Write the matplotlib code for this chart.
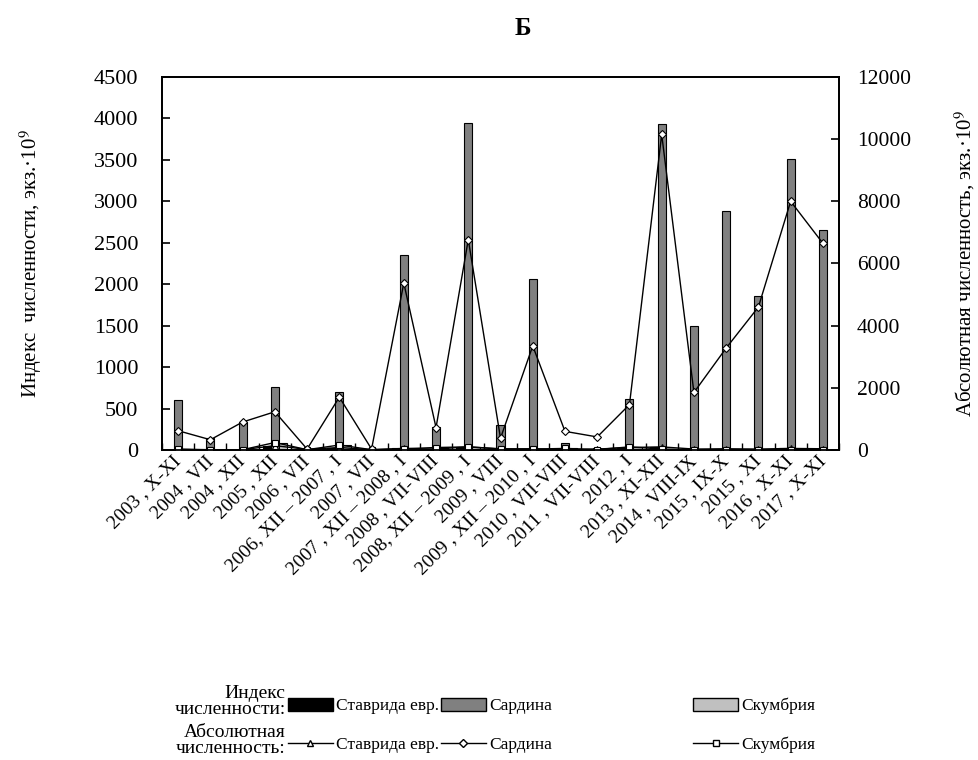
import numpy as np
import matplotlib
matplotlib.use("Agg")
import matplotlib.pyplot as plt
from matplotlib.patches import Patch
from matplotlib.lines import Line2D

plt.rcParams['font.family'] = ['Liberation Serif', 'DejaVu Serif']
plt.rcParams['mathtext.fontset'] = 'stix'


# DATA

periods = [
    "2003 , X-XI", "2004 , VII", "2004 , XII", "2005 , XII", "2006 , VII",
    "2006, XII \u2013 2007 , I", "2007 , VII", "2007 , XII \u2013 2008 , I",
    "2008 , VII-VIII", "2008, XII \u2013 2009 , I", "2009 , VIII",
    "2009 , XII \u2013 2010 , I", "2010 , VII-VIII", "2011 , VII-VIII",
    "2012 , I", "2013 , XI-XII", "2014 , VIII-IX", "2015 , IX-X",
    "2015 , XI", "2016 , X-XI", "2017 , X-XI",
]

# index of abundance (left axis), ind. * 10^9
idx_stavrida = [5, 0, 5, 50, 10, 30, 5, 20, 10, 40, 10, 15, 5, 10, 30, 40, 10, 15, 10, 20, 15]
idx_sardina = [600, 150, 340, 760, 0, 705, 15, 2355, 280, 3945, 300, 2065, 85, 30, 620, 3935, 1490, 2885, 1855, 3505, 2660]
idx_skumbria = [10, 5, 5, 90, 5, 60, 5, 15, 30, 40, 15, 10, 20, 5, 40, 10, 5, 5, 5, 5, 5]

# absolute abundance (right axis), ind. * 10^9
abs_stavrida = [20, 5, 10, 140, 20, 80, 10, 50, 30, 100, 30, 40, 10, 30, 80, 100, 30, 40, 30, 50, 40]
abs_sardina = [620, 330, 900, 1230, 30, 1700, 30, 5370, 720, 6770, 380, 3350, 600, 420, 1460, 10150, 1850, 3280, 4600, 8000, 6650]
abs_skumbria = [25, 10, 10, 240, 10, 160, 10, 40, 80, 100, 40, 30, 50, 15, 100, 30, 10, 10, 10, 15, 10]


# PLOTTING SETUP

fig = plt.figure(figsize=(9.79, 7.6), dpi=100)
ax = fig.add_axes([0.1655, 0.4079, 0.6915, 0.4908])
ax2 = ax.twinx()

x = np.arange(len(periods))
w = 0.25

ax.bar(x - w, idx_stavrida, w, color="black", edgecolor="black", linewidth=0.8)
ax.bar(x, idx_sardina, w, color="#808080", edgecolor="black", linewidth=0.8)
ax.bar(x + w, idx_skumbria, w, color="#c0c0c0", edgecolor="black", linewidth=0.8)

ax2.plot(x, abs_stavrida, color="black", lw=1.0, marker="^", ms=4,
         mfc="white", mec="black", mew=0.8)
ax2.plot(x, abs_skumbria, color="black", lw=1.0, marker="s", ms=5,
         mfc="white", mec="black", mew=0.8)
ax2.plot(x, abs_sardina, color="black", lw=1.0, marker="D", ms=4.5,
         mfc="white", mec="black", mew=0.8)

ax.set_xlim(-0.5, len(periods) - 0.5)
ax.set_ylim(0, 4500)
ax2.set_ylim(0, 12000)
ax.set_yticks(np.arange(0, 4501, 500))
ax2.set_yticks(np.arange(0, 12001, 2000))

ax.set_xticks(x)
ax.set_xticklabels(periods, rotation=45, ha="right", va="center",
                   rotation_mode="anchor", fontsize=14)
ax.set_xticks(np.arange(-0.5, len(periods), 1), minor=True)
ax.tick_params(axis="x", which="major", length=0, pad=6)
ax.tick_params(axis="x", which="minor", direction="in", length=5, width=1)
ax.tick_params(axis="y", direction="in", length=6, width=1.2, labelsize=16, pad=17)
ax2.tick_params(axis="y", direction="in", length=6, width=1.2, labelsize=15.5, pad=13)

for a in (ax, ax2):
    for s in a.spines.values():
        s.set_linewidth(1.3)

ax.set_ylabel("Индекс  численности, экз.\u00b710$^9$", fontsize=15, labelpad=36)
ax2.set_ylabel("Абсолютная численность, экз.\u00b710$^9$", fontsize=15,
               rotation=90, labelpad=30)

fig.text(0.534, 0.962, "Б", ha="center", va="center", fontsize=18,
         fontweight="bold")


# LEGEND (two rows, placed entry by entry)

row1_y = 0.071
row2_y = 0.020
fig.text(0.292, row1_y + 0.006, "Индекс\nчисленности:", ha="right", va="center",
         fontsize=14, linespacing=0.95)
fig.text(0.292, row2_y + 0.006, "Абсолютная\nчисленность:", ha="right", va="center",
         fontsize=14, linespacing=0.95)

entries = [
    (Patch(facecolor="black", edgecolor="black"), "Ставрида евр.", 0.294, row1_y),
    (Patch(facecolor="#808080", edgecolor="black"), "Сардина", 0.450, row1_y),
    (Patch(facecolor="#c0c0c0", edgecolor="black"), "Скумбрия", 0.708, row1_y),
    (Line2D([], [], color="black", lw=1, marker="^", ms=4, mfc="white", mec="black"),
     "Ставрида евр.", 0.294, row2_y),
    (Line2D([], [], color="black", lw=1, marker="D", ms=4, mfc="white", mec="black"),
     "Сардина", 0.450, row2_y),
    (Line2D([], [], color="black", lw=1, marker="s", ms=5, mfc="white", mec="black"),
     "Скумбрия", 0.708, row2_y),
]
for handle, label, lx, ly in entries:
    fig.legend(handles=[handle], labels=[label], loc="center left",
               bbox_to_anchor=(lx, ly), frameon=False, fontsize=12.5,
               handlelength=2.6, handleheight=0.8, handletextpad=0.2,
               borderpad=0, borderaxespad=0)

fig.savefig("out.png", dpi=100)
